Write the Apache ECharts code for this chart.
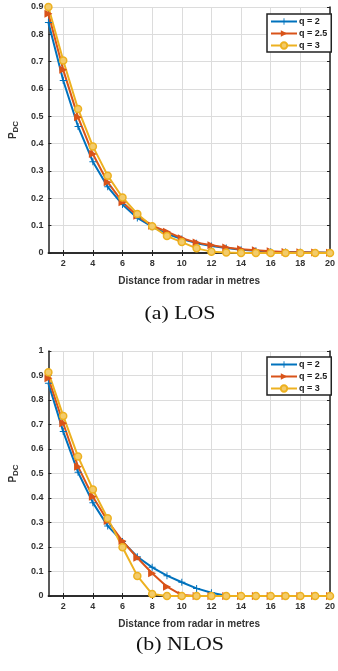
<!DOCTYPE html>
<html>
<head>
<meta charset="utf-8">
<script src="https://cdn.jsdelivr.net/npm/echarts@6/dist/echarts.min.js"></script>
<style>
  html, body { margin: 0; padding: 0; background: #fff; }
  #chart { width: 338px; height: 671px; }
</style>
</head>
<body>
<div id="chart"></div>
<script>
// distance from radar (m)
const distance = ['1','2','3','4','5','6','7','8','9','10','11','12','13','14','15','16','17','18','19','20'];
const seriesNames = ['q = 2', 'q = 2.5', 'q = 3'];

// (a) LOS
const losQ2  = [0.843, 0.631, 0.463, 0.334, 0.242, 0.177, 0.128, 0.096, 0.07, 0.051, 0.036, 0.026, 0.018, 0.012, 0.008, 0.005, 0.004, 0.003, 0.002, 0.001];
const losQ25 = [0.875, 0.67, 0.497, 0.362, 0.259, 0.186, 0.136, 0.1, 0.078, 0.054, 0.038, 0.028, 0.02, 0.014, 0.01, 0.006, 0.004, 0.003, 0.002, 0.001];
const losQ3  = [0.9, 0.704, 0.527, 0.39, 0.283, 0.203, 0.143, 0.098, 0.062, 0.04, 0.017, 0.005, 0.002, 0, 0, 0, 0, 0, 0, 0];

// (b) NLOS
const nlosQ2  = [0.868, 0.671, 0.505, 0.381, 0.286, 0.222, 0.16, 0.117, 0.083, 0.056, 0.031, 0.013, 0.001, 0, 0, 0, 0, 0, 0, 0];
const nlosQ25 = [0.889, 0.705, 0.528, 0.405, 0.306, 0.224, 0.156, 0.093, 0.038, 0.004, 0, 0, 0, 0, 0, 0, 0, 0, 0, 0];
const nlosQ3  = [0.913, 0.735, 0.569, 0.435, 0.317, 0.199, 0.082, 0.008, 0, 0, 0, 0, 0, 0, 0, 0, 0, 0, 0, 0];

const colors = ['#0072BD', '#D95319', '#EDB120'];
const FONT = 'Liberation Sans';
const plusPath = 'path://M4.3,0H5.7V4.3H10V5.7H5.7V10H4.3V5.7H0V4.3H4.3Z';
const even = (i, v) => Number(v) % 2 === 0;

const chart = echarts.init(document.getElementById('chart'));

function xAxes(gridIndex) {
  const base = {
    type: 'category',
    data: distance,
    boundaryGap: false,
    gridIndex,
    axisLine: { lineStyle: { color: '#222', width: 1.5 } },
    axisTick: { inside: true, length: 3, interval: even, lineStyle: { color: '#222' } },
  };
  return [
    Object.assign({}, base, {
      position: 'bottom',
      name: 'Distance from radar in metres',
      nameLocation: 'middle',
      nameGap: 23,
      nameTextStyle: { fontFamily: FONT, fontWeight: 'bold', fontSize: 10, color: '#333' },
      axisLabel: { interval: even, margin: 6, fontFamily: FONT, fontWeight: 'bold', fontSize: 9, color: '#333' },
      splitLine: { show: true, interval: even, lineStyle: { color: '#dcdcdc', width: 1 } },
    }),
    Object.assign({}, base, {
      position: 'top',
      axisLabel: { show: false },
      splitLine: { show: false },
    }),
  ];
}

function yAxes(gridIndex, max) {
  const base = {
    type: 'value',
    min: 0,
    max,
    interval: 0.1,
    gridIndex,
    axisLine: { show: true, lineStyle: { color: '#222', width: 1.5 } },
    axisTick: { show: true, inside: true, length: 3, lineStyle: { color: '#222' } },
  };
  return [
    Object.assign({}, base, {
      position: 'left',
      name: '{p|P}{s|DC}',
      nameLocation: 'middle',
      nameRotate: 90,
      nameGap: 24,
      nameTextStyle: {
        rich: {
          p: { fontFamily: FONT, fontWeight: 'bold', fontSize: 10, color: '#333' },
          s: { fontFamily: FONT, fontWeight: 'bold', fontSize: 8, color: '#333', padding: [6, 0, 0, 0] },
        },
      },
      axisLabel: { margin: 5, fontFamily: FONT, fontWeight: 'bold', fontSize: 9, color: '#333' },
      splitLine: { show: true, lineStyle: { color: '#dcdcdc', width: 1 } },
    }),
    Object.assign({}, base, {
      position: 'right',
      axisLabel: { show: false },
      splitLine: { show: false },
    }),
  ];
}

function makeSeries(axisBase, data) {
  const symbols = [plusPath, 'triangle', 'circle'];
  const sizes = [7, 8, 7];
  return data.map((d, i) => ({
    name: seriesNames[i],
    type: 'line',
    xAxisIndex: axisBase,
    yAxisIndex: axisBase,
    data: d,
    symbol: symbols[i],
    symbolSize: sizes[i],
    symbolRotate: i === 1 ? -90 : 0,
    showAllSymbol: true,
    animation: false,
    lineStyle: { color: colors[i], width: 2 },
    itemStyle: i === 2
      ? { color: '#F3CB6A', borderColor: colors[i], borderWidth: 1.5 }
      : { color: colors[i] },
    emphasis: { disabled: true },
  }));
}

function legend(top) {
  return {
    data: seriesNames,
    left: 267,
    top,
    orient: 'vertical',
    itemWidth: 26,
    itemHeight: 8,
    itemGap: 3,
    padding: [3, 4, 2, 3],
    borderColor: '#222',
    borderWidth: 1.5,
    backgroundColor: '#fff',
    selectedMode: false,
    textStyle: { fontFamily: FONT, fontWeight: 'bold', fontSize: 9, color: '#222', padding: [0, 0, 0, -3] },
  };
}

function caption(text, y) {
  return {
    type: 'text',
    x: 180,
    y,
    scaleX: 1.15,
    style: { text, x: 0, y: 0, textAlign: 'center', textVerticalAlign: 'top', font: '19px "Liberation Serif"', fill: '#111' },
  };
}

chart.setOption({
  animation: false,
  grid: [
    { left: 42, top: 7, width: 292, height: 246 },
    { left: 42, top: 351, width: 292, height: 245 },
  ],
  xAxis: [...xAxes(0), ...xAxes(1)],
  yAxis: [...yAxes(0, 0.9), ...yAxes(1, 1)],
  legend: [legend(14), legend(357)],
  series: [
    ...makeSeries(0, [losQ2, losQ25, losQ3]),
    ...makeSeries(2, [nlosQ2, nlosQ25, nlosQ3]),
  ],
  graphic: [
    caption('(a) LOS', 305),
    caption('(b) NLOS', 636),
  ],
});
</script>
</body>
</html>
